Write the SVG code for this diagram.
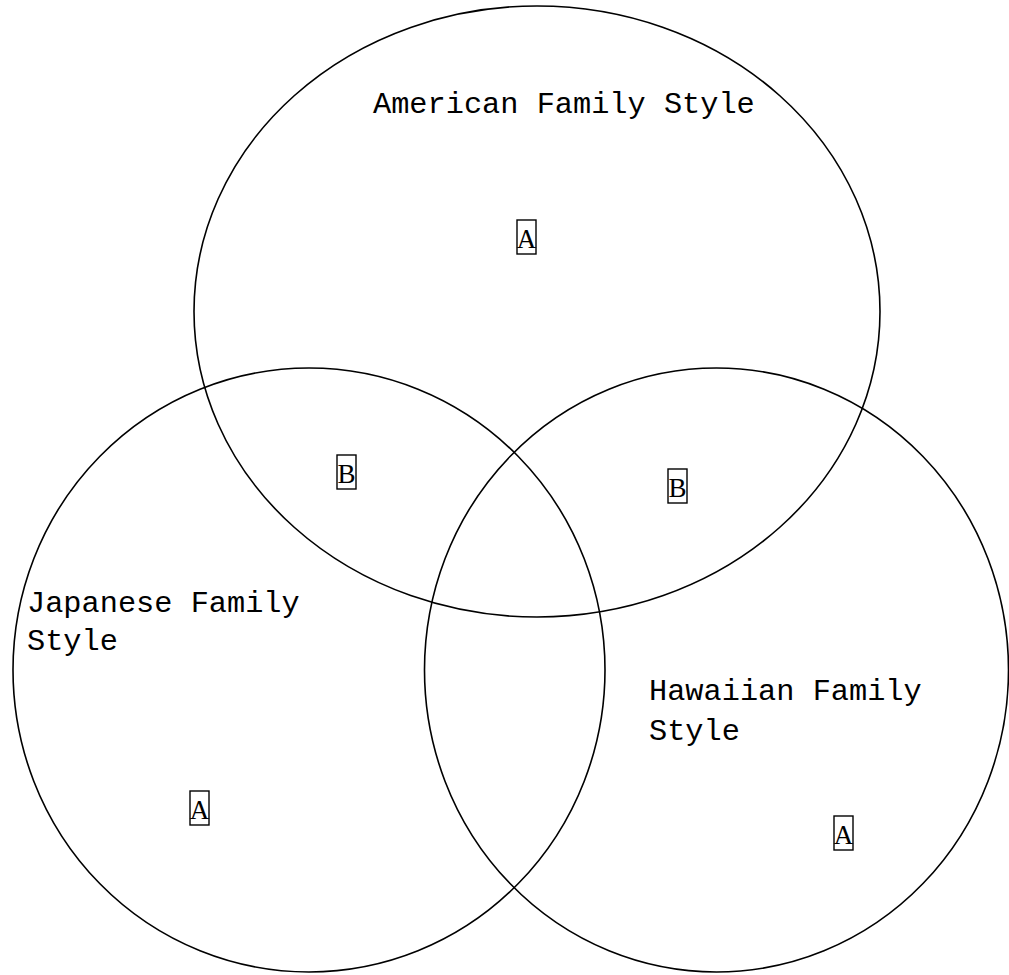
<svg xmlns="http://www.w3.org/2000/svg" width="1009" height="975" viewBox="0 0 1009 975">
<style>
.c{fill:none;stroke:#000;stroke-width:1.6}
.t{font-family:"Liberation Mono","Courier New",monospace;font-size:30.3px;fill:#000}
.b{fill:none;stroke:#000;stroke-width:1.4}
.l{font-family:"Liberation Serif","Times New Roman",serif;font-size:27px;fill:#000;text-anchor:middle}
</style>
<rect width="1009" height="975" fill="#fff"/>
<g id="american">
<ellipse class="c" cx="537" cy="311.5" rx="343" ry="305.5"/>
<text class="t" x="373" y="113">American Family Style</text>
<rect class="b" x="517" y="220" width="19" height="34"/>
<text class="l" x="526.5" y="248">A</text>
</g>
<g id="japanese">
<ellipse class="c" cx="309" cy="670" rx="296" ry="302"/>
<text class="t" x="27" y="612">Japanese Family</text>
<text class="t" x="27" y="650">Style</text>
<rect class="b" x="190" y="791" width="19" height="34"/>
<text class="l" x="199.5" y="819">A</text>
</g>
<g id="hawaiian">
<ellipse class="c" cx="716.5" cy="670" rx="292" ry="302"/>
<text class="t" x="649" y="700">Hawaiian Family</text>
<text class="t" x="649" y="740">Style</text>
<rect class="b" x="834" y="816" width="19" height="34"/>
<text class="l" x="843.5" y="844">A</text>
</g>
<g id="overlaps">
<rect class="b" x="337" y="455" width="19" height="34"/>
<text class="l" x="346.5" y="483">B</text>
<rect class="b" x="668" y="469" width="19" height="34"/>
<text class="l" x="677.5" y="497">B</text>
</g>
<g id="connectors"></g>
</svg>
